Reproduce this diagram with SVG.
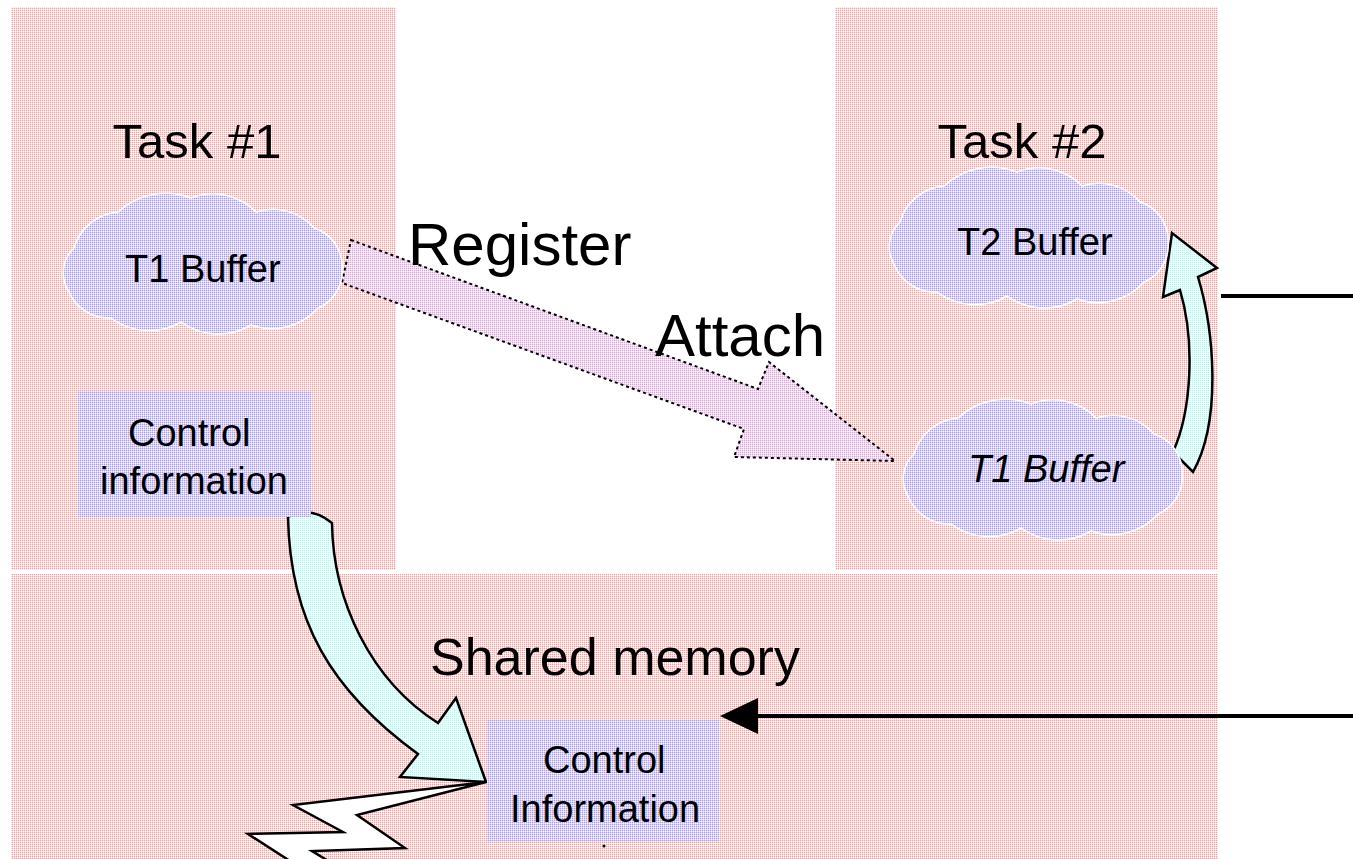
<svg xmlns="http://www.w3.org/2000/svg" xmlns:xlink="http://www.w3.org/1999/xlink" width="1353" height="859" viewBox="0 0 1353 859">
  <defs>
    <!-- dithered fills, 2x2 pixel cells -->
    <pattern id="dotPink" patternUnits="userSpaceOnUse" width="2" height="2">
      <rect width="2" height="2" fill="#ffffff"/>
      <rect x="0" y="0" width="1" height="1" fill="#ff9a9a"/>
      <rect x="1" y="0" width="1" height="1" fill="#ffdede"/>
      <rect x="0" y="1" width="1" height="1" fill="#ffdede"/>
    </pattern>
    <pattern id="dotBlue" patternUnits="userSpaceOnUse" width="2" height="2">
      <rect width="2" height="2" fill="#f6f4ff"/>
      <rect x="0" y="0" width="1" height="1" fill="#a89cf4"/>
      <rect x="1" y="0" width="1" height="1" fill="#dad4fa"/>
      <rect x="0" y="1" width="1" height="1" fill="#dad4fa"/>
    </pattern>
    <pattern id="dotCyan" patternUnits="userSpaceOnUse" width="2" height="2">
      <rect width="2" height="2" fill="#ffffff"/>
      <rect x="0" y="0" width="1" height="1" fill="#a4fbf0"/>
      <rect x="1" y="0" width="1" height="1" fill="#e6fffb"/>
      <rect x="0" y="1" width="1" height="1" fill="#e6fffb"/>
    </pattern>
    <pattern id="dotMauve" patternUnits="userSpaceOnUse" width="2" height="2">
      <rect width="2" height="2" fill="#fdf4fb"/>
      <rect x="0" y="0" width="1" height="1" fill="#d8a6e2"/>
      <rect x="1" y="0" width="1" height="1" fill="#f4dcef"/>
      <rect x="0" y="1" width="1" height="1" fill="#f4dcef"/>
    </pattern>
    <!-- cloud outline, drawn at 290 x 140 -->
    <path id="cloud" d="M18 58 A50 50 0 0 1 62 22 A70 70 0 0 1 135 8 A60 60 0 0 1 200 22 A55 55 0 0 1 258 38 A40 40 0 0 1 286 78 A40 40 0 0 1 262 118 A62 62 0 0 1 195 135 A64 64 0 0 1 125 132 A64 64 0 0 1 55 128 A44 44 0 0 1 12 100 A34 34 0 0 1 18 58 Z" fill="url(#dotBlue)" stroke="#ffffff" stroke-width="1.5"/>
  </defs>
  <style>
    text { font-family: "Liberation Sans", Arial, sans-serif; fill: #000000; }
    .title { font-size: 49px; }
    .verb { font-size: 60px; }
    .area { font-size: 52px; }
    .item { font-size: 38px; }
    .region { fill: url(#dotPink); }
    .box { fill: url(#dotBlue); }
    .flow { fill: url(#dotCyan); stroke: #000000; stroke-width: 2.5; stroke-linejoin: miter; }
  </style>

  <rect width="1353" height="859" fill="#ffffff"/>

  <!-- memory areas -->
  <g id="task1-area">
    <rect class="region" x="11" y="7" width="385" height="563"/>
    <text class="title" x="197" y="158" text-anchor="middle">Task #1</text>
  </g>
  <g id="task2-area">
    <rect class="region" x="835" y="7" width="383" height="563"/>
    <text class="title" x="1022" y="158" text-anchor="middle">Task #2</text>
  </g>
  <g id="shared-area">
    <rect class="region" x="11" y="574" width="1207" height="285"/>
    <text class="area" x="430" y="675">Shared memory</text>
  </g>

  <!-- connectors -->
  <g id="connectors">
    <!-- control information copied to shared memory -->
    <path class="flow" d="M288 517 C290 620 330 690 418 754 L400 777 L486 782 L456 698 L438 723 C370 680 333 600 332 523 Q310 505 288 517 Z"/>
    <!-- lightning bolt out of the shared control block -->
    <polygon points="486,782 293,805 343,832 248,834 304,870 343,870 312,851 405,848 357,815" fill="#ffffff" stroke="#000000" stroke-width="2.5" stroke-linejoin="miter"/>
    <!-- register / attach -->
    <polygon points="351,240 758,389 769,362 895,461 734,457 744,429 342,283" fill="url(#dotMauve)" stroke="#000000" stroke-width="2" stroke-dasharray="3 3"/>
    <!-- T1 buffer to T2 buffer inside task 2 -->
    <path class="flow" d="M1173 452 C1192 410 1195 340 1180 290 L1163 297 L1172 233 L1217 268 L1198 277 C1214 330 1222 420 1193 472 Z"/>
    <!-- lines from the right -->
    <line x1="1221" y1="296" x2="1353" y2="296" stroke="#000000" stroke-width="4"/>
    <line x1="756" y1="716" x2="1353" y2="716" stroke="#000000" stroke-width="4"/>
    <polygon points="720,716 758,698 758,734" fill="#000000"/>
  </g>

  <!-- nodes -->
  <g id="t1-buffer">
    <use xlink:href="#cloud" x="56" y="190"/>
    <text class="item" x="125" y="282">T1 Buffer</text>
  </g>
  <g id="control-info-task1">
    <rect class="box" x="78" y="391" width="233" height="126"/>
    <text class="item" x="128" y="446">Control</text>
    <text class="item" x="100" y="494">information</text>
  </g>
  <g id="t2-buffer">
    <use xlink:href="#cloud" x="882" y="164"/>
    <text class="item" x="957" y="255">T2 Buffer</text>
  </g>
  <g id="t1-buffer-attached">
    <use xlink:href="#cloud" x="896" y="396"/>
    <text class="item" x="968" y="482" font-style="italic">T1 Buffer</text>
  </g>
  <g id="control-info-shared">
    <rect class="box" x="487" y="720" width="232" height="122"/>
    <text class="item" x="543" y="773">Control</text>
    <text class="item" x="510" y="822">Information</text>
    <circle cx="604" cy="846" r="1.5" fill="#000000"/>
  </g>

  <!-- operation labels -->
  <g id="labels">
    <text class="verb" x="408" y="265">Register</text>
    <text class="verb" x="655" y="356">Attach</text>
  </g>
</svg>
